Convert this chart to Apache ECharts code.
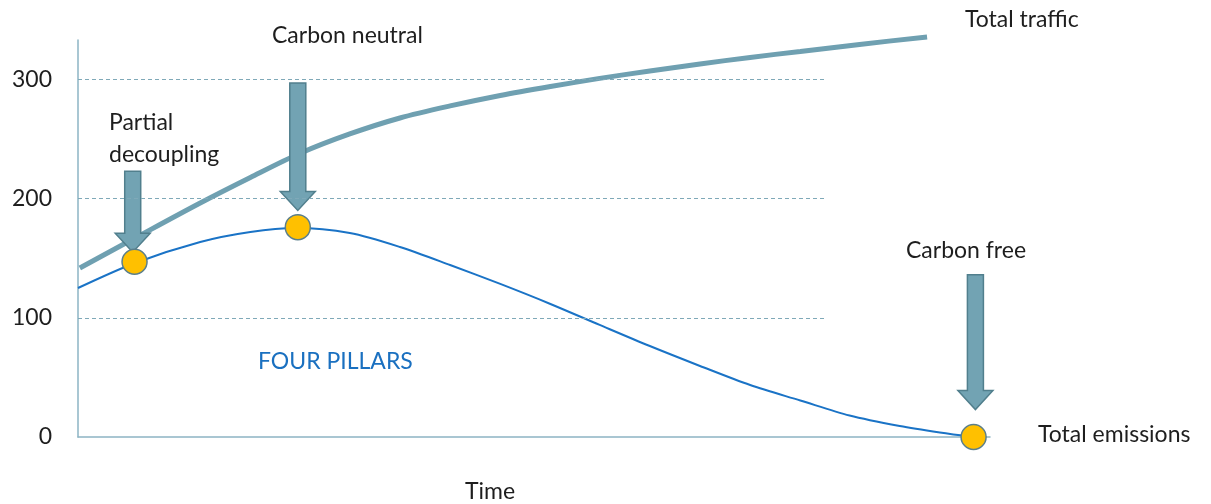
<!DOCTYPE html>
<html>
<head>
<meta charset="utf-8">
<script src="https://cdn.jsdelivr.net/npm/echarts@6/dist/echarts.min.js"></script>
<style>
  html, body { margin: 0; padding: 0; background: #fff; }
  #main { width: 1211px; height: 504px; }
</style>
</head>
<body>
<div id="main"></div>
<script>
// traffic curve (time, value)
var trafficX = [0.2, 6.25, 13.4, 18.9, 24.3, 29.8, 35.3, 40.8, 46.3, 51.8, 57.2, 62.7, 68.2, 73.7, 79.2, 85.7, 93.1];
var trafficY = [141.8, 166.9, 196.3, 217.7, 237.8, 254.2, 267.6, 277.7, 286.5, 294, 300.8, 307, 312.9, 318.4, 323.4, 329.3, 335.6];

// emissions curve
var emissionX = [0, 6.25, 13.4, 18.9, 23.9, 29.8, 35.3, 40.8, 46.3, 51.8, 57.2, 62.7, 68.2, 73.7, 79.2, 84.6, 90.1, 94.5, 98.2];
var emissionY = [125, 146, 163.6, 172, 175.3, 171.1, 159.4, 144.3, 128.4, 111.6, 94, 76.3, 59.6, 43.6, 30.6, 18, 9.2, 3.8, 0];

// milestones on the emission curve
var milestoneX = [6.2, 24.1, 98.2];
var milestoneY = [147, 176, 0];

// arrows: x, top value, tip value
var arrowX = [6.0, 24.1, 98.4];
var arrowTop = [223, 297, 136];
var arrowTip = [155, 190, 23];

var gridValues = [100, 200, 300];
var gridEndX = 82;

var chart = echarts.init(document.getElementById('main'));
var font = 'Lato, "Open Sans", sans-serif';
var txtColor = '#1e1e1e';

function zip(a, b) {
  return a.map(function (v, i) { return [v, b[i]]; });
}

var arrowData = arrowX.map(function (x, i) { return [x, arrowTop[i], arrowTip[i]]; });

var option = {
  animation: false,
  grid: { left: 78, right: 221, top: 40, bottom: 67 },
  xAxis: {
    type: 'value',
    min: 0,
    max: 100,
    axisLine: { lineStyle: { color: '#8db4c4', width: 1.5 } },
    axisTick: { show: false },
    axisLabel: { show: false },
    splitLine: { show: false }
  },
  yAxis: {
    type: 'value',
    min: 0,
    max: 333,
    interval: 100,
    axisLine: { show: true, lineStyle: { color: '#8db4c4', width: 1.5 } },
    axisTick: { show: false },
    splitLine: { show: false },
    axisLabel: {
      showMaxLabel: false,
      margin: 26,
      color: txtColor,
      fontSize: 23,
      fontFamily: font
    }
  },
  series: [
    {
      name: 'Total traffic',
      type: 'line',
      data: zip(trafficX, trafficY),
      smooth: 0.3,
      clip: false,
      symbol: 'none',
      z: 2,
      lineStyle: { color: '#6fa0b1', width: 5 },
      markLine: {
        silent: true,
        symbol: 'none',
        label: { show: false },
        lineStyle: { color: '#7fa9b8', type: [4, 3], width: 1 },
        data: gridValues.map(function (v) {
          return [{ coord: [0, v] }, { coord: [gridEndX, v] }];
        })
      }
    },
    {
      name: 'Total emissions',
      type: 'line',
      data: zip(emissionX, emissionY),
      smooth: 0.3,
      clip: false,
      symbol: 'none',
      z: 2,
      lineStyle: { color: '#1a73c6', width: 2 }
    },
    {
      type: 'custom',
      z: 3,
      clip: false,
      data: arrowData,
      encode: { x: 0, y: [1, 2] },
      renderItem: function (params, api) {
        var x = api.value(0);
        var pTop = api.coord([x, api.value(1)]);
        var pTip = api.coord([x, api.value(2)]);
        var cx = pTop[0];
        var sw = 8, hw = 17.5, hh = 19;
        var headY = pTip[1] - hh;
        return {
          type: 'polygon',
          shape: {
            points: [
              [cx - sw, pTop[1]], [cx + sw, pTop[1]], [cx + sw, headY],
              [cx + hw, headY], [cx, pTip[1]], [cx - hw, headY], [cx - sw, headY]
            ]
          },
          style: { fill: '#72a3b3', stroke: '#517f8d', lineWidth: 1.5 }
        };
      }
    },
    {
      type: 'scatter',
      z: 4,
      clip: false,
      data: zip(milestoneX, milestoneY),
      symbolSize: 25,
      itemStyle: { color: '#ffc000', borderColor: '#5b7f8b', borderWidth: 1.5, opacity: 1 }
    }
  ],
  graphic: [
    { type: 'text', left: 965, top: 8, style: { text: 'Total traffic', fill: txtColor, font: '23px ' + font } },
    { type: 'text', left: 272, top: 24, style: { text: 'Carbon neutral', fill: txtColor, font: '23px ' + font } },
    { type: 'text', left: 109, top: 107, style: { text: 'Partial\ndecoupling', fill: txtColor, font: '23px ' + font, lineHeight: 32 } },
    { type: 'text', left: 906, top: 239, style: { text: 'Carbon free', fill: txtColor, font: '23px ' + font } },
    { type: 'text', left: 1038, top: 423, style: { text: 'Total emissions', fill: txtColor, font: '23px ' + font } },
    { type: 'text', left: 258, top: 350, style: { text: 'FOUR PILLARS', fill: '#1a70c0', font: '23px ' + font } },
    { type: 'text', left: 465, top: 480, style: { text: 'Time', fill: txtColor, font: '23px ' + font } }
  ]
};

chart.setOption(option);
</script>
</body>
</html>
